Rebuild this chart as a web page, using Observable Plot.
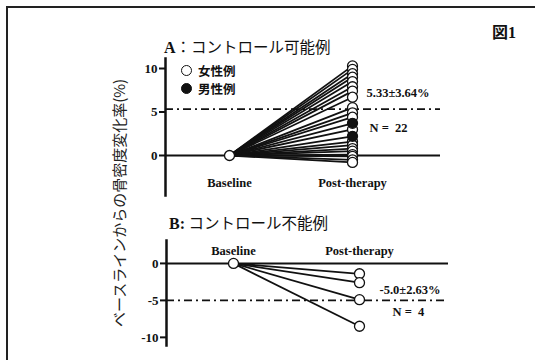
<!DOCTYPE html>
<html><head><meta charset="utf-8">
<script src="https://cdn.jsdelivr.net/npm/d3@7"></script>
<script src="https://cdn.jsdelivr.net/npm/@observablehq/plot@0.6"></script>
<style>
body{margin:0;background:#fff;}
#root{position:relative;width:535px;height:360px;overflow:hidden;background:#fff;}
#frame{position:absolute;left:6px;top:6px;width:540px;height:400px;border-top:2px solid #222;border-left:2px solid #222;}
.abs{position:absolute;white-space:nowrap;color:#111;}
.ser{font-family:"Liberation Serif",serif;font-weight:bold;}
.jp{font-family:"Noto Sans CJK JP",sans-serif;}
svg{position:absolute;left:0;}
</style></head>
<body><div id="root"><div id="frame"></div></div>
<script>
const phases = ["Baseline", "Post-therapy"];
// Panel A: control possible (22 cases)
const valuesA = [10.3, 9.9, 9.4, 9.0, 8.5, 7.9, 7.4, 6.7, 5.5, 4.9, 4.4, 3.7, 3.0, 2.2, 1.6, 1.2, 0.8, 0.5, 0.1, -0.1, -0.5, -0.8];
const sexA    = ["F","F","F","F","F","F","F","F","F","F","F","M","F","M","F","F","F","F","F","F","F","F"];
const meanA = 5.33;
const notesA = ["5.33±3.64%", "N =\u00a0 22"];
const ticksA = [0, 5, 10];
// Panel B: control impossible (4 cases)
const valuesB = [-1.4, -2.6, -4.9, -8.5];
const meanB = -5.0;
const notesB = ["-5.0±2.63%", "N =\u00a0 4"];
const ticksB = [0, -5, -10];
const titleA = ["A", "：コントロール可能例"];
const titleB = ["B:", " コントロール不能例"];
const legendLabels = ["女性例", "男性例"];
const yLabel = "ベースラインからの骨密度変化率(%)";
const figLabel = ["図", "1"];

const root = document.getElementById("root");
const serif = '"Liberation Serif", serif';

function panel({values, fills, mean, notes, ticks, yDomain, top, height, mTop, mBottom, mLeft, mRight, axisAnchor, axisDy, pad, align, noteDx, noteDy}) {
  const pts = values.map((v, i) => ({v, f: fills ? fills[i] : "F"}));
  const svg = Plot.plot({
    width: 535, height,
    marginLeft: mLeft, marginRight: mRight, marginTop: mTop, marginBottom: mBottom,
    style: {fontFamily: serif, fontWeight: "bold", fontSize: "13px", color: "#111", background: "transparent"},
    x: {type: "point", domain: phases, padding: pad, align, axis: null, label: null},
    y: {domain: yDomain, axis: null, label: null},
    marks: [
      Plot.frame({anchor: "left", strokeWidth: 2.5, stroke: "#111"}),
      Plot.axisY(ticks, {tickSize: 6, tickPadding: 2, strokeWidth: 2, tickFormat: d => String(d), fontSize: 13, label: null}),
      Plot.axisX({anchor: axisAnchor, tickSize: 0, tickPadding: 3, dy: axisDy, fontSize: 12.5, label: null}),
      Plot.ruleY([0], {strokeWidth: 2, stroke: "#111"}),
      Plot.ruleY([mean], {strokeWidth: 1.6, stroke: "#111", strokeDasharray: "8,4,2,4"}),
      Plot.link(pts, {x1: () => phases[0], y1: () => 0, x2: () => phases[1], y2: "v", strokeWidth: 1.8, stroke: "#111"}),
      Plot.dot([0], {x: () => phases[0], y: d => d, r: 5, fill: "white", stroke: "#111", strokeWidth: 1.3}),
      Plot.dot(pts.filter(d => d.f === "F"), {x: () => phases[1], y: "v", r: 5, fill: "white", stroke: "#111", strokeWidth: 1.3}),
      Plot.dot(pts.filter(d => d.f === "M"), {x: () => phases[1], y: "v", r: 5, fill: "#111", stroke: "#111", strokeWidth: 1.3}),
      Plot.text([notes[0]], {x: () => phases[1], y: () => mean, text: d => d, textAnchor: "start", dx: noteDx[0], dy: noteDy[0], fontSize: 12.5}),
      Plot.text([notes[1]], {x: () => phases[1], y: () => mean, text: d => d, textAnchor: "start", dx: noteDx[1], dy: noteDy[1], fontSize: 12.5})
    ]
  });
  svg.style.top = top + "px";
  root.appendChild(svg);
}

panel({values: valuesA, fills: sexA, mean: meanA, notes: notesA, ticks: ticksA,
  yDomain: [-4.6, 11.15], top: 0, height: 200, mTop: 58, mBottom: 5, mLeft: 165, mRight: 95,
  axisAnchor: "bottom", axisDy: -20, pad: 0.609, align: 0.424, noteDx: [14, 17], noteDy: [-16, 19]});

panel({values: valuesB, fills: null, mean: meanB, notes: notesB, ticks: ticksB,
  yDomain: [-11.1, 3.1], top: 200, height: 160, mTop: 40, mBottom: 15, mLeft: 166, mRight: 87,
  axisAnchor: "top", axisDy: 17, pad: 0.619, align: 0.429, noteDx: [20, 33], noteDy: [-10, 12]});

function addHTML(html, css) {
  const d = document.createElement("div");
  d.className = "abs";
  d.innerHTML = html;
  Object.assign(d.style, css);
  root.appendChild(d);
  return d;
}
addHTML(`<span class="ser" style="font-size:16px">${titleA[0]}</span><span class="jp" style="font-size:15.5px">${titleA[1]}</span>`, {left: "164px", top: "35px"});
addHTML(`<span class="ser" style="font-size:16px">${titleB[0]}</span><span class="jp" style="font-size:15.5px">${titleB[1]}</span>`, {left: "169px", top: "211px"});
addHTML(`<span class="jp" style="font-weight:bold;font-size:16px">${figLabel[0]}</span><span class="ser" style="font-size:16px">${figLabel[1]}</span>`, {left: "492px", top: "19px"});
legendLabels.forEach((t, i) => {
  addHTML(`<span style="display:inline-block;width:9px;height:9px;border-radius:50%;border:1.3px solid #111;background:${i ? "#111" : "#fff"};vertical-align:middle;margin-right:6px"></span><span class="jp" style="font-weight:bold;font-size:12.5px;vertical-align:middle">${t}</span>`,
    {left: "181px", top: (60 + i * 18) + "px"});
});
addHTML(`<span class="jp" style="font-size:15px;color:#222">${yLabel}</span>`,
  {left: "118px", top: "203px", transform: "translate(-50%,-50%) rotate(-90deg)"});
</script>
</body></html>
